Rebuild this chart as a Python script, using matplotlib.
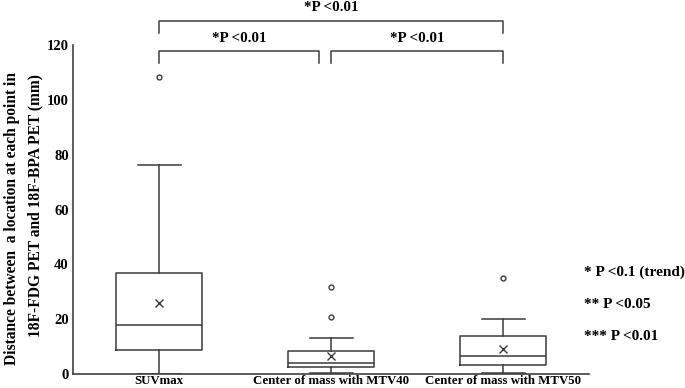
import matplotlib
matplotlib.use("Agg")
import matplotlib.pyplot as plt

plt.rcParams['font.family'] = ['Liberation Serif', 'DejaVu Serif']
plt.rcParams['font.weight'] = 'bold'

categories = ["SUVmax", "Center of mass with MTV40", "Center of mass with MTV50"]
whislo = [0.0, 0.2, 0.2]
q1 = [8.7, 2.4, 3.2]
med = [17.8, 4.2, 6.4]
q3 = [36.7, 8.5, 13.7]
whishi = [76.4, 13.1, 20.2]
means = [25.8, 6.4, 9.1]
fliers = [[108.5], [20.8, 31.9], [34.9]]

brackets = [(1, 3, "*P <0.01", "top"), (1, 2, "*P <0.01", "low"), (2, 3, "*P <0.01", "low")]
legend_lines = ["* P <0.1 (trend)", "** P <0.05", "*** P <0.01"]
yticks = [0, 20, 40, 60, 80, 100, 120]

fig = plt.figure(figsize=(6.85, 3.88), dpi=100)
ax = fig.add_axes([0.1066, 0.036, 0.7534, 0.848])

stats = []
for i, c in enumerate(categories):
    stats.append(dict(label=c, whislo=whislo[i], q1=q1[i], med=med[i], q3=q3[i],
                      whishi=whishi[i], mean=means[i], fliers=fliers[i]))

lc = '#3a3a3a'
ax.bxp(stats, positions=[1, 2, 3], widths=0.5, showmeans=True, showfliers=True,
       boxprops=dict(color=lc, linewidth=1.1),
       whiskerprops=dict(color=lc, linewidth=1.1),
       capprops=dict(color=lc, linewidth=1.1),
       medianprops=dict(color=lc, linewidth=1.1),
       meanprops=dict(marker='x', markeredgecolor=lc, markersize=6, markeredgewidth=1.0),
       flierprops=dict(marker='o', markerfacecolor='white', markeredgecolor=lc,
                       markersize=3.5, markeredgewidth=1.0))

ax.set_xlim(0.5, 3.5)
ax.set_ylim(0, 120)
ax.set_yticks(yticks)
ax.set_yticklabels([str(t) for t in yticks], fontsize=10.5, fontweight='bold')
ax.tick_params(axis='y', length=0, pad=3)
ax.tick_params(axis='x', length=0, pad=1)
ax.set_xticks([1, 2, 3])
ax.set_xticklabels(categories, fontsize=9.3, fontweight='bold')
for s in ['top', 'right']:
    ax.spines[s].set_visible(False)
for s in ['left', 'bottom']:
    ax.spines[s].set_color('#404040')
    ax.spines[s].set_linewidth(1.2)

# significance brackets (drawn above axes)
for x0, x1, txt, lvl in brackets:
    if lvl == "top":
        ytop, ybot, ytxt = 128.8, 124.2, 133.5
        xa, xb = x0, x1
    else:
        ytop, ybot, ytxt = 117.7, 113.5, 122.3
        xa, xb = (x0, x1 - 0.07) if x0 == 1 else (x0, x1)
    ax.plot([xa, xa, xb, xb], [ybot, ytop, ytop, ybot], color='#404040', lw=1.1, clip_on=False)
    ax.text((xa + xb) / 2, ytxt, txt, ha='center', va='center', fontsize=10.8, fontweight='bold')

# significance legend
for i, t in enumerate(legend_lines):
    fig.text(0.853, 1 - (272 + 32 * i) / 388, t, ha='left', va='center', fontsize=11, fontweight='bold')

# y label
fig.text(0.018, 0.438, "Distance between  a location at each point in",
         rotation=90, ha='center', va='center', fontsize=11.2, fontweight='bold')
fig.text(0.051, 0.469, "18F-FDG PET and 18F-BPA PET (mm)",
         rotation=90, ha='center', va='center', fontsize=11.2, fontweight='bold')

fig.savefig("out.png", dpi=100)
